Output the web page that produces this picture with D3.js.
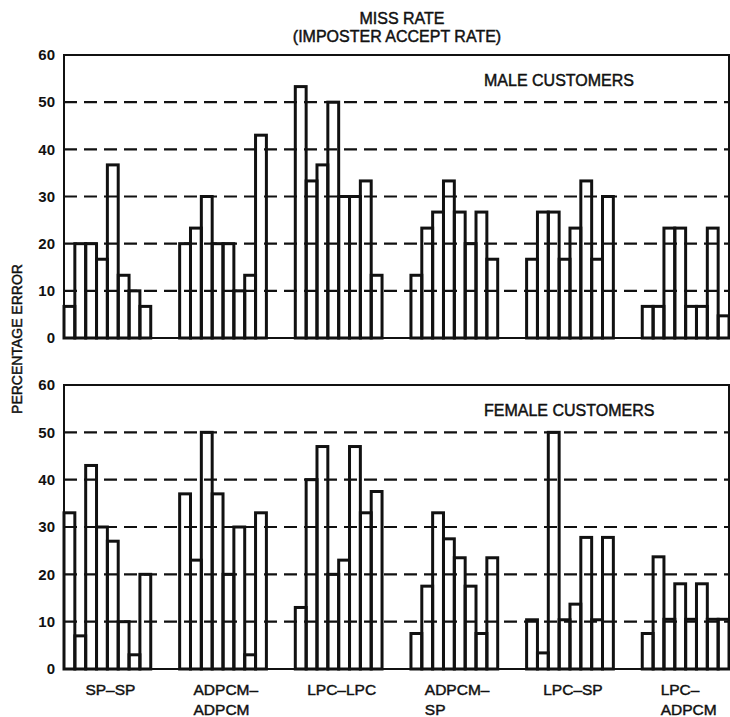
<!DOCTYPE html>
<html>
<head>
<meta charset="utf-8">
<script src="https://cdn.jsdelivr.net/npm/d3@7"></script>
<style>
  html, body { margin: 0; padding: 0; background: #fff; }
  svg { display: block; font-family: "Liberation Sans", Arial, sans-serif; }
  .label { stroke: #111; stroke-width: 0.45px; }
</style>
</head>
<body>
<svg id="chart" width="730" height="717"></svg>
<script>
// Codec pairings (enrolment – test) along the x axis
const categories = ["SP–SP", "ADPCM–ADPCM", "LPC–LPC", "ADPCM–SP", "LPC–SP", "LPC–ADPCM"];
const categoryLines = [["SP–SP"], ["ADPCM–", "ADPCM"], ["LPC–LPC"], ["ADPCM–", "SP"], ["LPC–SP"], ["LPC–", "ADPCM"]];

// Miss rate (%) for the eight speakers within each pairing
const maleValues = [
  [6.7, 20, 20, 16.7, 36.7, 13.3, 10, 6.7],
  [20, 23.3, 30, 20, 20, 10, 13.3, 43],
  [53.3, 33.3, 36.7, 50, 30, 30, 33.3, 13.3],
  [13.3, 23.3, 26.7, 33.3, 26.7, 20, 26.7, 16.7],
  [16.7, 26.7, 26.7, 16.7, 23.3, 33.3, 16.7, 30],
  [6.7, 6.7, 23.3, 23.3, 6.7, 6.7, 23.3, 4.7]
];
const femaleValues = [
  [33, 7, 43, 30, 27, 10, 3, 20],
  [37, 23, 50, 37, 20, 30, 3, 33],
  [13, 40, 47, 20, 23, 47, 33, 37.5],
  [7.5, 17.5, 33, 27.5, 23.5, 17.5, 7.5, 23.5],
  [10.4, 3.4, 50, 10.4, 13.7, 27.8, 10.4, 27.8],
  [7.5, 23.7, 10.5, 18, 10.5, 18, 10.5, 10.5]
];

const yTicks = [0, 10, 20, 30, 40, 50, 60];
const gridTicks = [10, 20, 30, 40, 50];
const titleLines = ["MISS RATE", "(IMPOSTER ACCEPT RATE)"];
const panelTitles = ["MALE CUSTOMERS", "FEMALE CUSTOMERS"];
const yAxisTitle = "PERCENTAGE ERROR";

const svg = d3.select("#chart");
const ink = "#111";

const plotLeft = 64, plotRight = 729;
const panels = [
  { values: maleValues, title: panelTitles[0], top: 55, bottom: 338 },
  { values: femaleValues, title: panelTitles[1], top: 385, bottom: 669 }
];

const x = d3.scaleBand()
  .domain(categories)
  .range([plotLeft, plotRight])
  .paddingInner(0.25)
  .paddingOuter(0);

const xInner = d3.scaleBand()
  .domain(d3.range(8))
  .range([0, x.bandwidth()])
  .padding(0);

// Title
svg.append("g").selectAll("text")
  .data(titleLines)
  .join("text")
  .attr("class", "label")
  .attr("x", (d, i) => i === 0 ? 402 : 397)
  .attr("y", (d, i) => 24 + i * 18)
  .attr("text-anchor", "middle")
  .attr("font-size", 16)
  .attr("fill", ink)
  .text(d => d);

panels.forEach(p => {
  const y = d3.scaleLinear().domain([0, 60]).range([p.bottom, p.top]);
  const g = svg.append("g");

  // dashed reference lines
  g.append("g").selectAll("line")
    .data(gridTicks)
    .join("line")
    .attr("x1", plotLeft)
    .attr("x2", plotRight)
    .attr("y1", d => y(d))
    .attr("y2", d => y(d))
    .attr("stroke", ink)
    .attr("stroke-width", 2.2)
    .attr("stroke-dasharray", "13,7");

  // bars
  const groups = g.append("g").selectAll("g")
    .data(categories.map((c, i) => ({ cat: c, vals: p.values[i] })))
    .join("g")
    .attr("transform", d => `translate(${x(d.cat)},0)`);

  groups.selectAll("rect")
    .data(d => d.vals)
    .join("rect")
    .attr("x", (d, i) => xInner(i))
    .attr("width", xInner.bandwidth())
    .attr("y", d => y(d))
    .attr("height", d => y(0) - y(d))
    .attr("fill", "none")
    .attr("stroke", ink)
    .attr("stroke-width", 3);

  // frame
  g.append("rect")
    .attr("x", plotLeft)
    .attr("y", p.top)
    .attr("width", plotRight - plotLeft)
    .attr("height", p.bottom - p.top)
    .attr("fill", "none")
    .attr("stroke", ink)
    .attr("stroke-width", 2);

  // y axis tick labels
  const axis = g.append("g")
    .attr("transform", `translate(${plotLeft},0)`)
    .call(d3.axisLeft(y).tickValues(yTicks).tickSize(0).tickPadding(9).tickFormat(d3.format("d")));
  axis.select(".domain").remove();
  axis.selectAll("text")
    .attr("font-size", 15)
    .attr("font-weight", "bold")
    .attr("font-family", "Liberation Sans, Arial, sans-serif")
    .attr("fill", ink);

  // panel caption
  g.append("text")
    .attr("class", "label")
    .attr("x", 484)
    .attr("y", p.top + 31)
    .attr("font-size", 16)
    .attr("fill", ink)
    .text(p.title);
});

// y axis title
svg.append("text")
  .attr("class", "label")
  .attr("transform", "translate(22,339) rotate(-90)")
  .attr("text-anchor", "middle")
  .attr("font-size", 14)
  .attr("fill", ink)
  .text(yAxisTitle);

// category labels (left-aligned lines, block centred under each group)
const catLabels = svg.append("g").selectAll("text")
  .data(categories.map((c, i) => ({ cat: c, lines: categoryLines[i] })))
  .join("text")
  .attr("class", "label")
  .attr("font-size", 15.5)
  .attr("fill", ink);

catLabels.each(function(d) {
  const t = d3.select(this);
  t.selectAll("tspan")
    .data(d.lines)
    .join("tspan")
    .attr("x", 0)
    .attr("y", (s, i) => 695 + i * 20)
    .text(s => s);
  const w = this.getBBox().width;
  const cx = x(d.cat) + x.bandwidth() / 2 + 3;
  t.attr("transform", `translate(${cx - w / 2},0)`);
});
</script>
</body>
</html>
